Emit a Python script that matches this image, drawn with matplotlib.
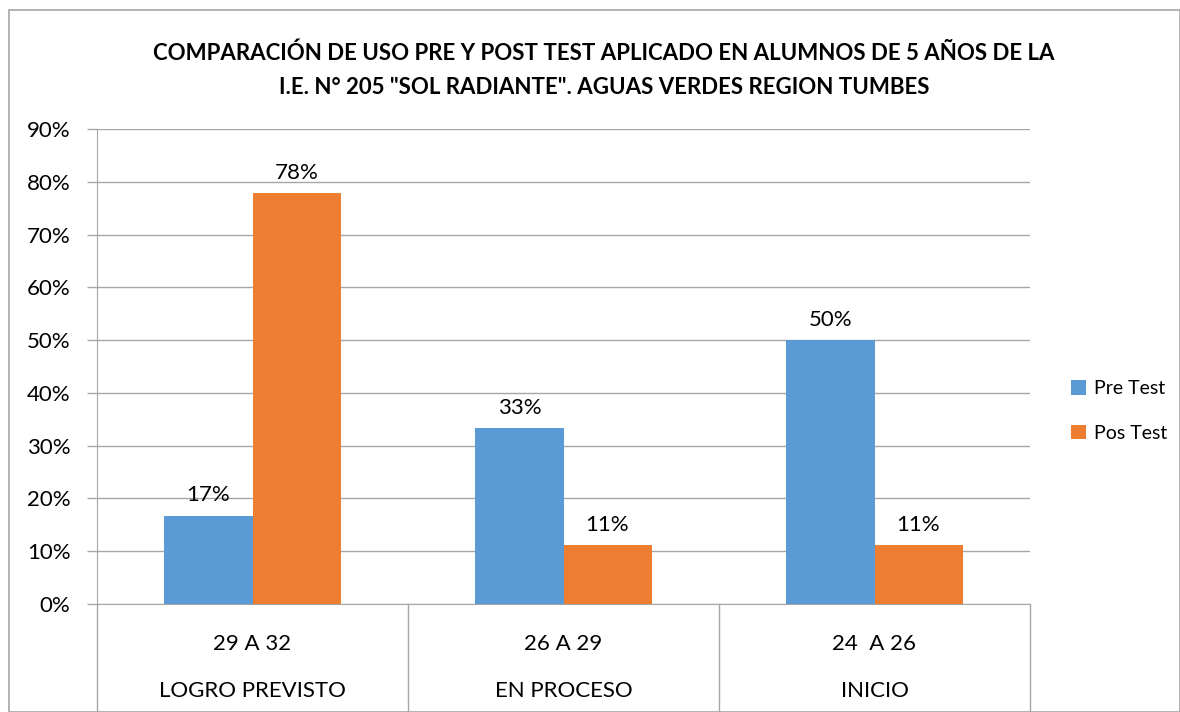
import numpy as np
import matplotlib
matplotlib.use('Agg')
import matplotlib.pyplot as plt
from matplotlib.patches import Rectangle
from matplotlib.ticker import FuncFormatter

plt.rcParams['font.family'] = ['Lato', 'DejaVu Sans']

# === DATA ===
ranges = ['29 A 32', '26 A 29', '24  A 26']
levels = ['LOGRO PREVISTO', 'EN PROCESO', 'INICIO']
pre_test = [0.1667, 0.3333, 0.50]
pos_test = [0.7778, 0.1111, 0.1111]
pre_labels = ['17%', '33%', '50%']
pos_labels = ['78%', '11%', '11%']

blue = '#5B9BD5'
orange = '#ED7D31'
grid_col = '#A6A6A6'

W, H = 1180, 712
fig = plt.figure(figsize=(W / 100, H / 100), dpi=100)

# outer chart frame
fig.patches.append(Rectangle((9 / W, 0), (W - 9) / W, (H - 10) / H, transform=fig.transFigure,
                             fill=False, edgecolor='#A6A6A6', linewidth=1.2))

x0, x1, y0, y1 = 97, 1030, 604, 129
ax = fig.add_axes([x0 / W, 1 - y0 / H, (x1 - x0) / W, (y0 - y1) / H])

x = np.arange(len(ranges))
bw = 0.283
ax.bar(x - bw / 2, pre_test, bw, color=blue, label='Pre Test', zorder=3)
ax.bar(x + bw / 2, pos_test, bw, color=orange, label='Pos Test', zorder=3)

for i in range(len(x)):
    ax.text(x[i] - bw / 2, pre_test[i] + 0.02, pre_labels[i], ha='center', va='bottom', fontsize=16)
    ax.text(x[i] + bw / 2, pos_test[i] + 0.02, pos_labels[i], ha='center', va='bottom', fontsize=16)

ax.set_xlim(-0.5, 2.5)
ax.set_ylim(0, 0.9)
ax.set_yticks(np.arange(0, 0.91, 0.1))
ax.yaxis.set_major_formatter(FuncFormatter(lambda v, p: f'{v * 100:.0f}%'))
ax.tick_params(axis='y', labelsize=16, length=7, color=grid_col, width=1, pad=12)
ax.set_xticks([])
ax.yaxis.grid(True, color=grid_col, linewidth=1)
ax.set_axisbelow(True)
for s in ['top', 'right']:
    ax.spines[s].set_visible(False)
ax.spines['left'].set_color(grid_col)
ax.spines['bottom'].set_color(grid_col)

# multi-level category axis
trans = ax.get_xaxis_transform()
for b in [-0.5, 0.5, 1.5, 2.5]:
    ax.plot([b, b], [0, -(H - y0) / (y0 - y1)], transform=trans, color=grid_col,
            linewidth=1, clip_on=False)
for i in range(len(x)):
    ax.text(x[i], -(644 - y0) / (y0 - y1), ranges[i], transform=trans, ha='center', va='center', fontsize=16)
    ax.text(x[i], -(691 - y0) / (y0 - y1), levels[i], transform=trans, ha='center', va='center', fontsize=16)

fig.text(604 / W, 1 - 53 / H, 'COMPARACIÓN DE USO PRE Y POST TEST APLICADO EN ALUMNOS DE 5 AÑOS DE LA',
         ha='center', va='center', fontsize=16, fontweight='bold')
fig.text(604 / W, 1 - 87 / H, 'I.E. N° 205 "SOL RADIANTE". AGUAS VERDES REGION TUMBES',
         ha='center', va='center', fontsize=16, fontweight='bold')

fig.legend(loc='center left', bbox_to_anchor=(1071 / W, 1 - 411 / H), frameon=False,
           borderpad=0, borderaxespad=0,
           fontsize=14, handlelength=0.75, handleheight=0.75, handletextpad=0.45, labelspacing=1.4)

plt.savefig('out.png', dpi=100)
